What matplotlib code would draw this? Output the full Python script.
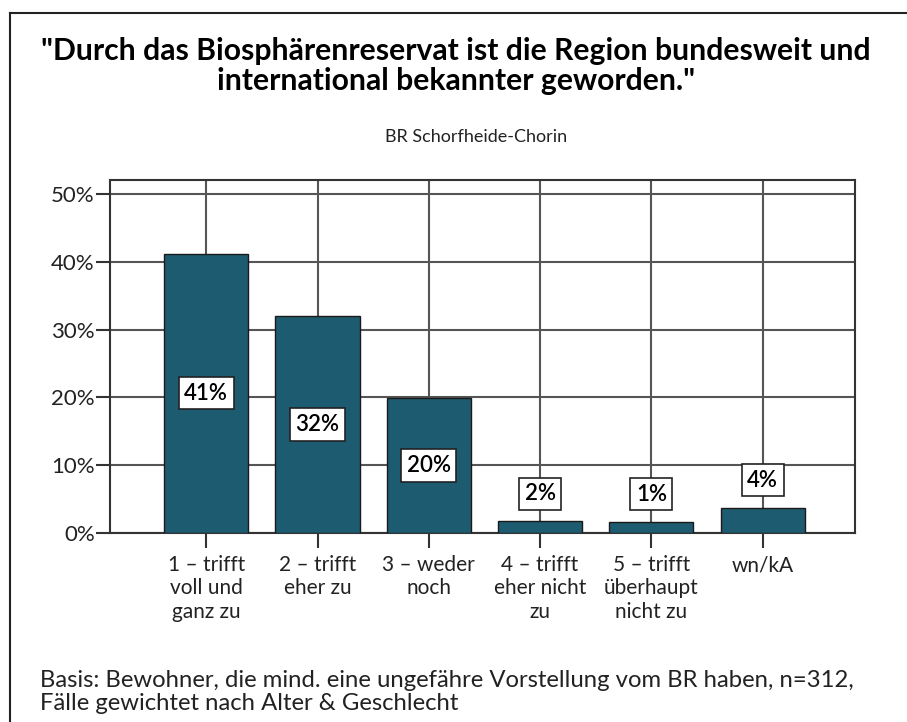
import numpy as np
import matplotlib
matplotlib.use("Agg")
import matplotlib.pyplot as plt

plt.rcParams['font.family'] = ['Lato', 'DejaVu Sans']

# Daten
kategorien = ["1 – trifft\nvoll und\nganz zu", "2 – trifft\neher zu", "3 – weder\nnoch",
              "4 – trifft\neher nicht\nzu", "5 – trifft\nüberhaupt\nnicht zu", "wn/kA"]
werte = [41.2, 32.0, 19.9, 1.7, 1.6, 3.7]
beschriftung = ["41%", "32%", "20%", "2%", "1%", "4%"]
y_ticks = [0, 10, 20, 30, 40, 50]
y_ticklabels = ["0%", "10%", "20%", "30%", "40%", "50%"]

titel = '"Durch das Biosphärenreservat ist die Region bundesweit und\ninternational bekannter geworden."'
untertitel = "BR Schorfheide-Chorin"
fussnote = "Basis: Bewohner, die mind. eine ungefähre Vorstellung vom BR haben, n=312,\nFälle gewichtet nach Alter & Geschlecht"

W, H = 907, 722
fig = plt.figure(figsize=(W / 100, H / 100), dpi=100)

# aeusserer Rahmen (nur links und oben sichtbar)
fig.add_artist(plt.Line2D([10 / W, 10 / W], [0, 1 - 13 / H], color="#222222", lw=1.5,
                          transform=fig.transFigure))
fig.add_artist(plt.Line2D([10 / W, 1], [1 - 13 / H, 1 - 13 / H], color="#222222", lw=1.5,
                          transform=fig.transFigure))

ax = fig.add_axes([110 / W, 1 - 533 / H, 745 / W, 353 / H])
x = np.arange(len(werte))

ax.bar(x, werte, width=0.757, color="#1d5b71", edgecolor="#1a1a1a", lw=1.0, zorder=3)

ax.set_xlim(-0.865, 5.83)
ax.set_ylim(0, 52.06)
ax.set_xticks(x)
ax.set_xticklabels(kategorien, fontsize=15, color="#222222", linespacing=1.2)
ax.set_yticks(y_ticks)
ax.set_yticklabels(y_ticklabels, fontsize=16, color="#222222")
ax.tick_params(axis="x", direction="out", length=11, width=1.5, color="#333333", pad=5)
ax.tick_params(axis="y", direction="out", length=10, width=1.5, color="#333333", pad=1)

ax.grid(True, color="#555555", lw=1.5, zorder=0)
ax.set_axisbelow(True)
for s in ax.spines.values():
    s.set_color("#333333")
    s.set_linewidth(1.5)

box = dict(boxstyle="square,pad=0.25", fc="white", ec="#222222", lw=1.2)
for xi, v, lab in zip(x, werte, beschriftung):
    if v >= 10:
        ax.text(xi, v / 2, lab, ha="center", va="center", fontsize=16, fontweight="semibold",
                bbox=box, zorder=5)
    else:
        ax.annotate(lab, (xi, v), xytext=(0, 20), textcoords="offset points",
                    ha="center", va="center", fontsize=16, fontweight="semibold",
                    bbox=box, zorder=5)

fig.text(456 / W, 1 - 66 / H, titel, ha="center", va="center", fontsize=21.7,
         fontweight="bold", linespacing=1.08)
fig.text(476 / W, 1 - 137 / H, untertitel, ha="center", va="center", fontsize=13,
         color="#222222")
fig.text(40 / W, 1 - 692 / H, fussnote, ha="left", va="center", fontsize=17.2,
         color="#222222", linespacing=1.1)

fig.savefig("out.png", dpi=100)
